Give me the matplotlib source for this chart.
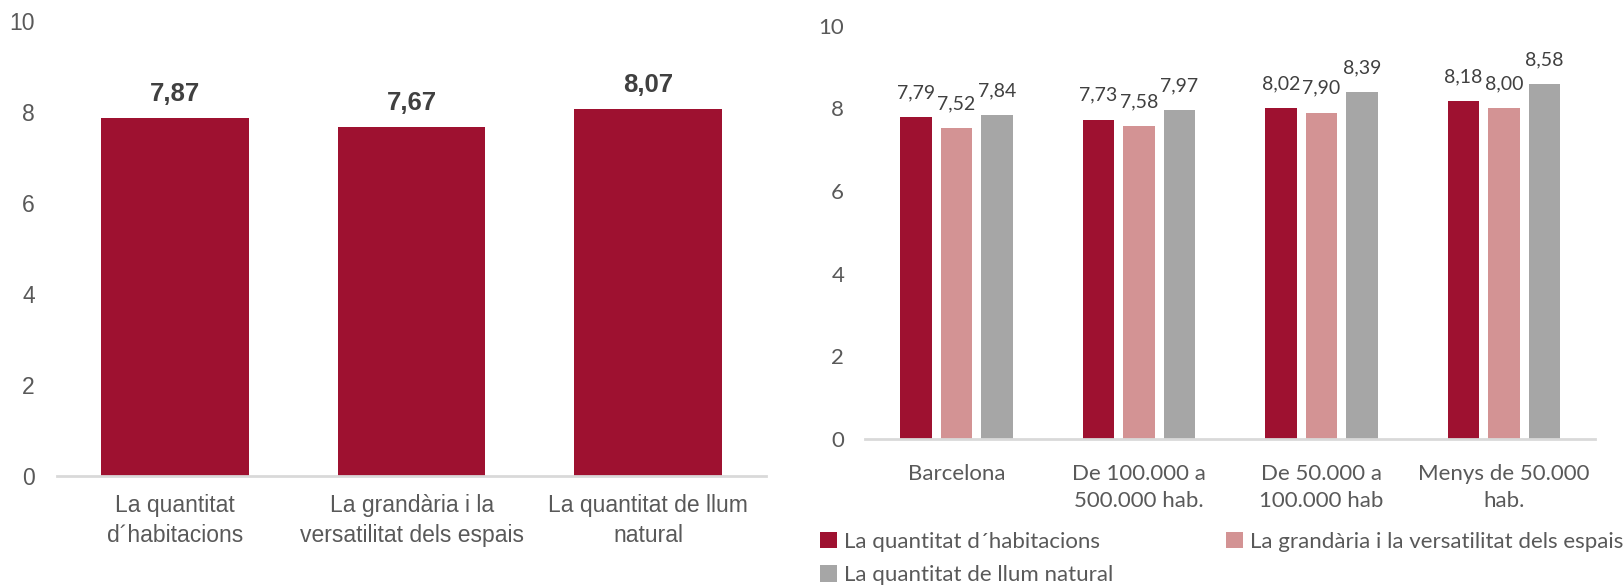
import matplotlib.pyplot as plt
import numpy as np

# Data
aspects = ['La quantitat\nd´habitacions', 'La grandària i la\nversatilitat dels espais',
           'La quantitat de llum\nnatural']
total_scores = [7.87, 7.67, 8.07]

places = ['Barcelona', 'De 100.000 a\n500.000 hab.', 'De 50.000 a\n100.000 hab',
          'Menys de 50.000\nhab.']
series_names = ['La quantitat d´habitacions', 'La grandària i la versatilitat dels espais',
                'La quantitat de llum natural']
habitacions = [7.79, 7.73, 8.02, 8.18]
grandaria = [7.52, 7.58, 7.90, 8.00]
llum = [7.84, 7.97, 8.39, 8.58]

colors = ['#9E1130', '#D39394', '#A6A6A6']
tick_color = '#595959'
label_color = '#404040'

fig = plt.figure(figsize=(16.23, 5.86), dpi=100)

# Left chart
ax1 = fig.add_axes([0.0351, 0.188, 0.437, 0.776])
x1 = np.arange(len(aspects))
ax1.bar(x1, total_scores, width=0.624, color=colors[0])
for xi, v in zip(x1, total_scores):
    ax1.text(xi, v + 0.37, f'{v:.2f}'.replace('.', ','), ha='center', va='baseline',
             fontsize=18.5, fontweight='bold', color=label_color, family='Liberation Sans')
ax1.set_xlim(-0.5, 2.5)
ax1.set_ylim(0, 10)
ax1.set_yticks([0, 2, 4, 6, 8, 10])
ax1.set_xticks(x1)
ax1.set_xticklabels(aspects, fontsize=16.5, color=tick_color, family='Liberation Sans',
                    linespacing=1.37)
for lab in ax1.get_yticklabels():
    lab.set_family('Liberation Sans')
ax1.tick_params(axis='y', labelsize=16.5, labelcolor=tick_color, length=0, pad=16)
ax1.tick_params(axis='x', length=0, pad=13)
for s in ['top', 'right', 'left']:
    ax1.spines[s].set_visible(False)
ax1.spines['bottom'].set_color('#D9D9D9')
ax1.spines['bottom'].set_linewidth(2)

# Right chart
ax2 = fig.add_axes([0.533, 0.251, 0.450, 0.705])
x2 = np.arange(len(places))
step = 0.222
width = 0.173
handles = []
for i, vals in enumerate([habitacions, grandaria, llum]):
    pos = x2 + (i - 1) * step
    h = ax2.bar(pos, vals, width=width, color=colors[i], label=series_names[i])
    handles.append(h)
    for xi, v in zip(pos, vals):
        ax2.text(xi, v + 0.38, f'{v:.2f}'.replace('.', ','), ha='center', va='bottom',
                 fontsize=14, color=label_color, family='Lato')
ax2.set_xlim(-0.5, 3.5)
ax2.set_ylim(0, 10)
ax2.set_yticks([0, 2, 4, 6, 8, 10])
ax2.set_xticks(x2)
ax2.set_xticklabels(places, fontsize=16, color=tick_color, family='Lato', linespacing=1.45)
for lab in ax2.get_yticklabels():
    lab.set_family('Lato')
ax2.tick_params(axis='y', labelsize=16, labelcolor=tick_color, length=0, pad=15)
ax2.tick_params(axis='x', length=0, pad=18)
for s in ['top', 'right', 'left']:
    ax2.spines[s].set_visible(False)
ax2.spines['bottom'].set_color('#D9D9D9')
ax2.spines['bottom'].set_linewidth(2)

# legend filled row by row: habitacions, grandaria / llum
order = [0, 2, 1]
leg = fig.legend([handles[i] for i in order], [series_names[i] for i in order],
                 loc='upper left', bbox_to_anchor=(0.4932, 0.1265), ncol=2, frameon=False,
                 prop={'family': 'Lato', 'size': 16}, handlelength=0.75, handleheight=0.75,
                 handletextpad=0.3, columnspacing=5.1, labelspacing=0.6)
for t in leg.get_texts():
    t.set_color(tick_color)

fig.savefig('out.png', dpi=100)
